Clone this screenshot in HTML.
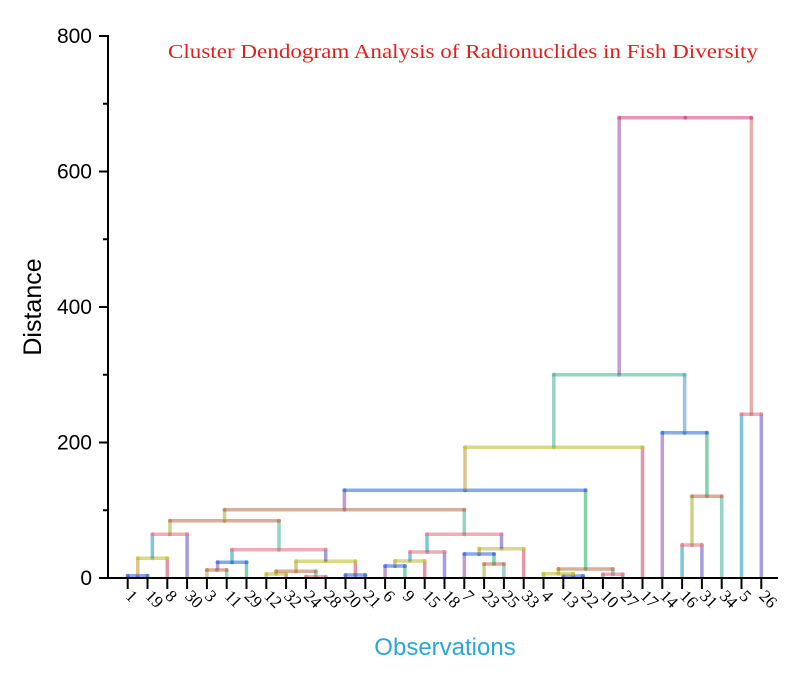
<!DOCTYPE html>
<html><head><meta charset="utf-8"><style>
html,body{margin:0;padding:0;background:#fff;width:800px;height:679px;overflow:hidden}
svg{display:block}
</style></head><body>
<svg id="s" width="800" height="679" xmlns="http://www.w3.org/2000/svg">
<rect width="800" height="679" fill="#fff"/>
<text x="463" y="58" font-family="Liberation Serif, serif" font-size="20.5" fill="#e02020" text-anchor="middle" textLength="590" lengthAdjust="spacingAndGlyphs">Cluster Dendogram Analysis of Radionuclides in Fish Diversity</text>
<text transform="translate(41,307) rotate(-90)" font-family="Liberation Sans, sans-serif" font-size="25" fill="#000" text-anchor="middle">Distance</text>
<text x="445" y="655" font-family="Liberation Sans, sans-serif" font-size="24" fill="#2aa7d6" text-anchor="middle">Observations</text>
<g id="d" fill="none" stroke-width="3.5" stroke-opacity="0.6"></g>
<g id="ax" stroke="#000" stroke-width="2"></g>
<g id="lab" font-family="Liberation Sans, sans-serif" font-size="21" fill="#000" text-anchor="end"></g>
<g id="xl" font-family="Liberation Serif, serif" font-size="17" fill="#000"></g>
</svg>
<script>
var NS="http://www.w3.org/2000/svg";
function el(p,t,a,txt){var e=document.createElementNS(NS,t);for(var k in a)e.setAttribute(k,a[k]);if(txt!=null)e.textContent=txt;document.getElementById(p).appendChild(e);return e;}
var Y0=578, S=542/800;
el('ax','line',{x1:108,y1:35,x2:108,y2:579});
el('ax','line',{x1:107,y1:578,x2:778,y2:578});
for(var v=0;v<=800;v+=100){var y=Y0-v*S;
 if(v%200==0){el('ax','line',{x1:99,y1:y,x2:108,y2:y});el('lab','text',{x:92,y:y+7},String(v));}
 else el('ax','line',{x1:103,y1:y,x2:108,y2:y});}
var leaves=[1,19,8,30,3,11,29,12,32,24,28,20,21,6,9,15,18,7,23,25,33,4,13,22,10,27,17,14,16,31,34,5,26];
function X(i){return 127.7+19.8*i;}
leaves.forEach(function(l,i){var x=X(i);
 el('ax','line',{x1:x,y1:578,x2:x,y2:589});
 el('xl','text',{x:0,y:0,transform:'translate('+(x-3)+',597) rotate(45)'},String(l));});
var C=['#9b59b6','#3a6fd8','#2eb872','#c89b3c','#c0c03a','#d0506e','#2aa0c0','#e07a8a','#6a5acd','#a8b43a','#c07a5a','#50b8a0'];
var ci=0;function col(){return C[(ci++)%C.length];}
var M=[
[X(0),578,X(1),578,575.7],
[137.8,575.7,X(2),578,558.3],
[152.4,558.3,X(3),578,534.3],
[X(4),578,X(5),578,570],
[217.6,570,X(6),578,562.3],
[X(7),578,X(8),578,574],
[X(9),578,X(10),578,576.7],
[276.2,574,315.8,576.7,571.3],
[X(11),578,X(12),578,575],
[296,571.3,355.4,575,561.3],
[232,562.3,325.7,561.3,549.7],
[170,534.3,279,549.7,520.7],
[X(13),578,X(14),578,566],
[395,566,X(15),578,561],
[410,561,X(16),578,552],
[X(18),578,X(19),578,564],
[X(17),578,494,564,554],
[479.2,554,X(20),578,548.7],
[427,552,501.5,548.7,534.3],
[224.5,520.7,464.3,534.3,509.7],
[X(22),578,X(23),578,576],
[X(21),578,573.2,576,573.7],
[X(24),578,X(25),578,574.3],
[558.4,573.7,612.8,574.3,569],
[344.4,509.7,585.6,569,490.3],
[465,490.3,X(26),578,447.3],
[X(28),578,X(29),578,545],
[692,545,X(30),578,496.3],
[X(27),578,706.9,496.3,432.7],
[553.8,447.3,684.6,432.7,374.7],
[X(31),578,X(32),578,414.3],
[619.2,374.7,751.4,414.3,117.7]
];
M.forEach(function(m,k){
 var a=col(),b=col(),c=col();
 if(k==M.length-1){a='#9b59b6';b='#d0508a';c='#d07a7a';}
 if(k==M.length-3){a='#50b8a0';b='#50b8a0';c='#5a9ad8';}
 el('d','line',{x1:m[0],y1:m[1],x2:m[0],y2:m[4],stroke:a});
 el('d','line',{x1:m[2],y1:m[3],x2:m[2],y2:m[4],stroke:c});
 el('d','line',{x1:m[0],y1:m[4],x2:m[2],y2:m[4],stroke:b});
 [[m[0],m[4]],[m[2],m[4]],[(m[0]+m[2])/2,m[4]]].forEach(function(p){el('d','circle',{cx:p[0],cy:p[1],r:2,fill:b,stroke:'none','fill-opacity':0.8});});
});
</script>
</body></html>
